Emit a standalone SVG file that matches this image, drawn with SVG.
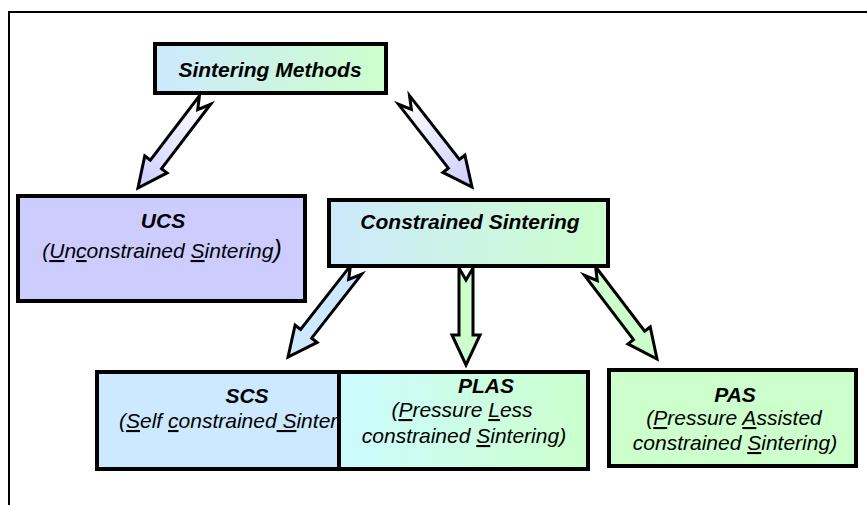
<svg xmlns="http://www.w3.org/2000/svg" width="867" height="505" viewBox="0 0 867 505">
<style>
text{font-family:"Liberation Sans",Arial,sans-serif;font-size:21px;fill:#000;font-style:italic}
.b{font-weight:bold}
.box{stroke:#000;stroke-width:4}
.arr{stroke:#000;stroke-width:3;stroke-linejoin:miter}
.u{text-decoration:underline}
</style>
<defs>
<linearGradient id="bg" x1="0" y1="0" x2="1" y2="0">
<stop offset="0" stop-color="#cce9fd"/><stop offset="1" stop-color="#ccffcc"/>
</linearGradient>
<linearGradient id="pg" x1="0" y1="0" x2="1" y2="0">
<stop offset="0" stop-color="#ccfbff"/><stop offset="1" stop-color="#ccffcc"/>
</linearGradient>
<linearGradient id="ag" x1="0" y1="0" x2="1" y2="0">
<stop offset="0" stop-color="#ffffff"/><stop offset="1" stop-color="#ccccff"/>
</linearGradient>
</defs>
<rect x="9" y="12" width="900" height="600" fill="#fff" stroke="#000" stroke-width="2"/>
<g id="connectors">
<path class="arr" fill="url(#ag)" transform="translate(205,100) rotate(127.3)" d="M0,-7 L81,-7 L81,-14 L110.6,0 L81,14 L81,7 L0,7 L12,0 Z"/>
<path class="arr" fill="url(#ag)" transform="translate(404,100) rotate(52)" d="M0,-7 L81,-7 L81,-14 L110.4,0 L81,14 L81,7 L0,7 L12,0 Z"/>
<path class="arr" fill="#cce9ff" transform="translate(356,270) rotate(128)" d="M0,-7 L81,-7 L81,-14 L110.4,0 L81,14 L81,7 L0,7 L12,0 Z"/>
<path class="arr" fill="#ccffcc" transform="translate(466,268) rotate(90)" d="M0,-7 L67,-7 L67,-14 L97,0 L67,14 L67,7 L0,7 L12,0 Z"/>
<path class="arr" fill="#ccffcc" transform="translate(590,271) rotate(52.7)" d="M0,-7 L81,-7 L81,-14 L110.6,0 L81,14 L81,7 L0,7 L12,0 Z"/>
</g>
<g id="sintering-methods">
<rect class="box" x="155" y="44" width="231" height="49" fill="url(#bg)"/>
<text class="b" x="270" y="77" text-anchor="middle">Sintering Methods</text>
</g>
<g id="ucs">
<rect class="box" x="18" y="196" width="287" height="105" fill="#ccccff"/>
<text class="b" x="163" y="228" text-anchor="middle">UCS</text>
<text x="162" y="258" text-anchor="middle">(<tspan class="u">U</tspan>n<tspan class="u">c</tspan>onstrained <tspan class="u">S</tspan>intering<tspan font-size="25">)</tspan></text>
</g>
<g id="constrained-sintering">
<rect class="box" x="329" y="200" width="279" height="66" fill="url(#bg)"/>
<text class="b" x="470" y="229" text-anchor="middle">Constrained Sintering</text>
</g>
<g id="scs">
<rect class="box" x="97" y="372" width="290" height="97" fill="#cce9ff"/>
<text class="b" x="247" y="403" text-anchor="middle">SCS</text>
<text x="119" y="428">(<tspan class="u">S</tspan>elf <tspan class="u">c</tspan>onstrained<tspan class="u"> S</tspan>intering)</text>
</g>
<g id="plas">
<rect class="box" x="339" y="372" width="249" height="97" fill="url(#pg)"/>
<text class="b" x="486" y="393" text-anchor="middle">PLAS</text>
<text x="462" y="417" text-anchor="middle">(<tspan class="u">P</tspan>ressure <tspan class="u">L</tspan>ess</text>
<text x="464" y="443" text-anchor="middle">constrained <tspan class="u">S</tspan>intering)</text>
</g>
<g id="pas">
<rect class="box" x="609" y="370" width="247" height="96" fill="#ccffcc"/>
<text class="b" x="735" y="402" text-anchor="middle">PAS</text>
<text x="734" y="425" text-anchor="middle">(<tspan class="u">P</tspan>ressure <tspan class="u">A</tspan>ssisted</text>
<text x="735" y="450" text-anchor="middle">constrained <tspan class="u">S</tspan>intering)</text>
</g>
</svg>
